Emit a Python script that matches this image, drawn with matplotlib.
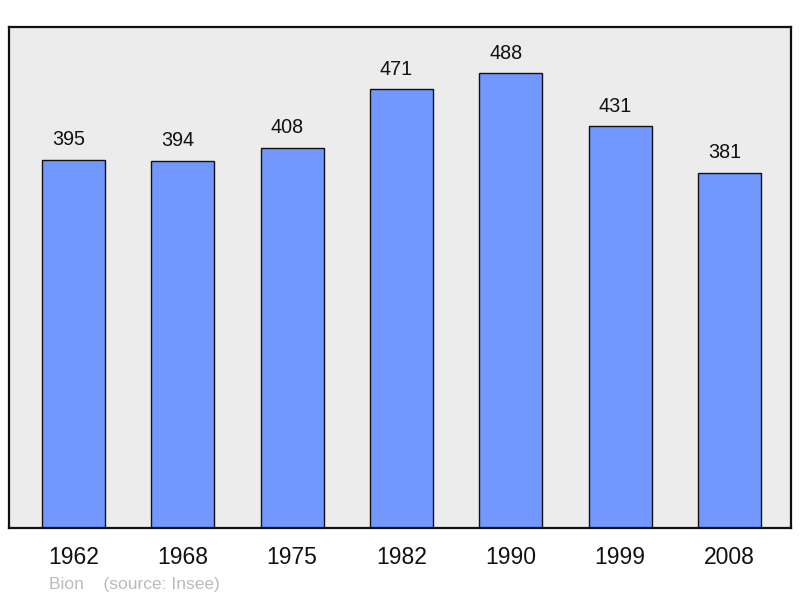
import matplotlib
matplotlib.use('Agg')
import matplotlib.pyplot as plt

plt.rcParams['font.family'] = ['Liberation Sans', 'DejaVu Sans']

years = ['1962', '1968', '1975', '1982', '1990', '1999', '2008']
population = [395, 394, 408, 471, 488, 431, 381]

fig = plt.figure(figsize=(8, 5.98), dpi=100)
ax = fig.add_axes([9 / 800, 70 / 598, 782 / 800, 501 / 598])
ax.set_facecolor('#ececec')

x = range(len(years))
ax.bar(x, population, width=0.576, color='#7297ff', edgecolor='#111111', linewidth=1.0, zorder=2)

# value labels sit a little left of the bar centre in the original
for xi, v in zip(x, population):
    ax.annotate(str(v), (xi, v), xytext=(-3.6, 10.5), textcoords='offset points',
                ha='center', va='baseline', fontsize=14.2, color='#111111')

ax.set_xlim(-0.59, 6.563)
ax.set_ylim(0, 537.8)
ax.set_xticks(list(x))
ax.set_xticklabels(years, fontsize=16.5, color='#111111')
ax.tick_params(axis='x', length=0, pad=13)
ax.set_yticks([])
for s in ax.spines.values():
    s.set_linewidth(1.6)
    s.set_color('#111111')

fig.text(49 / 800, 1 - 584 / 598, 'Bion    (source: Insee)', fontsize=12.5,
         color='#bbbbbb', va='center', ha='left')

fig.savefig('out.png', dpi=100)
